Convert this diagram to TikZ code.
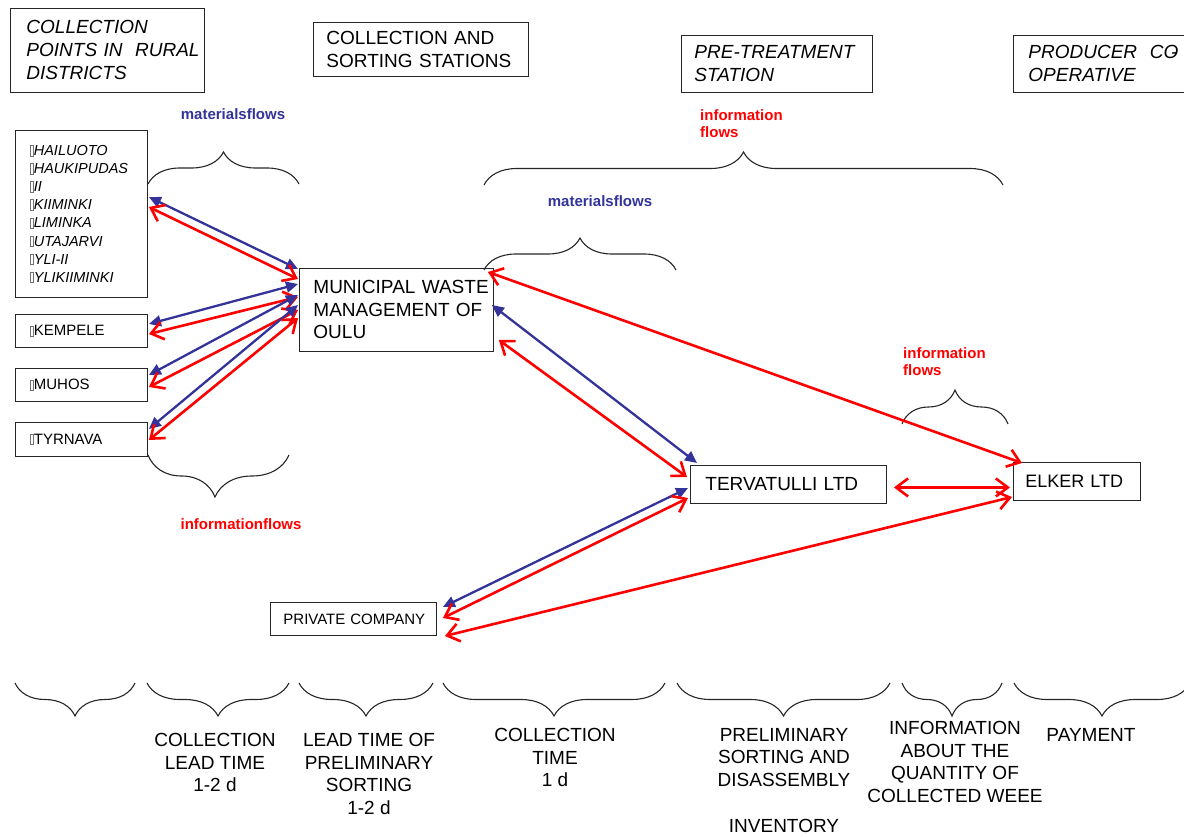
\documentclass[tikz,border=0pt]{standalone}
\usepackage{fontspec}
\setmainfont{Liberation Sans}
\usetikzlibrary{arrows.meta, decorations.pathreplacing}
\definecolor{FlowBlue}{HTML}{333399}
\definecolor{FlowRed}{HTML}{FF0000}
% empty glyph box in front of the place names
\newcommand{\tofu}{{\color{black!55}\setlength{\fboxsep}{0pt}\setlength{\fboxrule}{0.4pt}\fbox{\rule{0pt}{10pt}\hspace{2.6pt}}}}

\begin{document}
\begin{tikzpicture}[x=1pt, y=-1pt,
  box/.style={draw=black!85, line width=0.9pt, align=left, inner ysep=0pt, anchor=north west},
  hdfont/.style={font={\fontsize{19}{23}\selectfont}},
  hditfont/.style={font={\fontsize{19}{23}\selectfont\itshape}},
  placefont/.style={font={\fontsize{15}{18}\selectfont}},
  flowlbl/.style={inner sep=0pt, font={\fontsize{15}{17}\selectfont\bfseries}},
  timelbl/.style={anchor=north, align=center, inner sep=0pt, font={\fontsize{19}{22.6}\selectfont}},
  matflow/.style={draw=FlowBlue, line width=2.3pt, >={Triangle[length=12pt,width=11pt]}, <->},
  infoflow/.style={draw=FlowRed, line width=2.6pt, >={Straight Barb[length=12pt,width=18pt]}, <->},
  brc/.style={draw=black!85, line width=1.1pt, decorate, decoration={brace, amplitude=#1}}]
  \useasboundingbox (0,0) rectangle (1184,837);

  % stage headings
  \node[box, hditfont, text width=162, inner xsep=16, minimum height=84] (hdrrural) at (10,8)
    {\mbox{COLLECTION}\\\mbox{POINTS IN\ \ RURAL}\\\mbox{DISTRICTS}};
  \node[box, hdfont, text width=189, inner xsep=13, minimum height=54] (hdrsort) at (313,22)
    {\mbox{COLLECTION AND}\\\mbox{SORTING STATIONS}};
  \node[box, hditfont, text width=165, inner xsep=13, minimum height=57] (hdrpre) at (681,35)
    {\mbox{PRE-TREATMENT}\\STATION};
  \node[box, hditfont, text width=172, inner xsep=15, minimum height=57] (hdrprod) at (1013,35)
    {\mbox{PRODUCER\ \ CO\llap{-\kern1pt}}\\OPERATIVE};

  % collection points
  \node[box, font={\fontsize{14.5}{18.1}\selectfont\itshape}, text width=102, inner xsep=15,
        minimum height=167] (rural) at (15,130)
    {\mbox{\tofu HAILUOTO}\\\mbox{\tofu HAUKIPUDAS}\\\mbox{\tofu II}\\\mbox{\tofu KIIMINKI}\\
     \mbox{\tofu LIMINKA}\\\mbox{\tofu UTAJARVI}\\\mbox{\tofu YLI-II}\\\mbox{\tofu YLIKIIMINKI}};
  \node[box, placefont, text width=102, inner xsep=15, minimum height=33] (kempele) at (15,314) {\tofu KEMPELE};
  \node[box, placefont, text width=102, inner xsep=15, minimum height=33] (muhos) at (15,368) {\tofu MUHOS};
  \node[box, placefont, text width=102, inner xsep=15, minimum height=34] (tyrnava) at (15,422) {\tofu TYRNAVA};

  % actors
  \node[box, font={\fontsize{19}{22.5}\selectfont}, text width=166, inner xsep=14, minimum height=83] (mwm) at (299,268)
    {\mbox{MUNICIPAL WASTE}\\\mbox{MANAGEMENT OF}\\OULU};
  \node[box, hdfont, text width=166, inner xsep=15, minimum height=38] (terv) at (690,465) {\mbox{TERVATULLI LTD}};
  \node[box, font={\fontsize{18}{22}\selectfont}, text width=103, inner xsep=12, minimum height=38] (elker) at (1013,462)
    {\mbox{ELKER LTD}};
  \node[box, placefont, text width=140, inner xsep=13, minimum height=33] (private) at (270,602)
    {\mbox{PRIVATE COMPANY}};

  % flow labels
  \node[flowlbl, text=FlowBlue] (matlblrural) at (233,114) {materialsflows};
  \node[flowlbl, text=FlowRed] (infolblrural) at (241,524) {informationflows};
  \node[flowlbl, text=FlowRed, align=left, anchor=west] (infolblpre) at (700,123.5) {information\\flows};
  \node[flowlbl, text=FlowBlue] (matlblterv) at (600,201) {materialsflows};
  \node[flowlbl, text=FlowRed, align=left, anchor=west] (infolblelker) at (903,361.5) {information\\flows};

  % braces
  \draw[brc=32] (148,184) -- (299,184);
  \draw[brc=42, decoration={aspect=0.525}] (289,455) -- (148,455);
  \draw[brc=33] (484,185) -- (1003,185);
  \draw[brc=32] (484,270) -- (676,270);
  \draw[brc=34] (902,424) -- (1008,424);
  \foreach \l/\r in {15/135, 147/289, 299/433, 443/665, 677/890, 902/1002, 1014/1190}
    \draw[brc=33] (\r,683) -- (\l,683);

  % time line
  \node[timelbl] (tcollect) at (215,733) {COLLECTION\\LEAD TIME\\1-2 d};
  \node[timelbl] (tlead) at (369,733) {LEAD TIME OF\\PRELIMINARY\\SORTING\\1-2 d};
  \node[timelbl] (tcoltime) at (555,728) {COLLECTION\\TIME\\1 d};
  \node[timelbl] (tsort) at (784,728) {PRELIMINARY\\SORTING AND\\DISASSEMBLY\\[23pt]INVENTORY};
  \node[timelbl] (tinfo) at (955,721) {INFORMATION\\ABOUT THE\\QUANTITY OF\\COLLECTED WEEE};
  \node[timelbl] (tpay) at (1091,728) {PAYMENT};

  % flows between collection points and Oulu
  \draw[matflow] ([shift={(1,67)}]rural.north east) -- ([shift={(-1,1)}]mwm.north west);
  \draw[infoflow] ([shift={(1,77)}]rural.north east) -- ([shift={(-1,11)}]mwm.north west);
  \draw[matflow] ([shift={(1,10)}]kempele.north east) -- ([shift={(-1,16)}]mwm.north west);
  \draw[infoflow] ([shift={(1,20)}]kempele.north east) -- ([shift={(-1,29)}]mwm.north west);
  \draw[matflow] ([shift={(1,7)}]muhos.north east) -- ([shift={(-1,27)}]mwm.north west);
  \draw[infoflow] ([shift={(1,19)}]muhos.north east) -- ([shift={(-1,42)}]mwm.north west);
  \draw[matflow] ([shift={(1,7)}]tyrnava.north east) -- ([shift={(-1,37)}]mwm.north west);
  \draw[infoflow] ([shift={(1,18)}]tyrnava.north east) -- ([shift={(-1,50)}]mwm.north west);

  % flows to pre-treatment and producers
  \draw[matflow] ([shift={(-2,37)}]mwm.north east) -- ([shift={(7,-2)}]terv.north west);
  \draw[infoflow] ([shift={(5,72)}]mwm.north east) -- ([shift={(-3,12)}]terv.north west);
  \draw[infoflow] ([shift={(-6,4)}]mwm.north east) -- ([shift={(9,1)}]elker.north west);
  \draw[infoflow] ([shift={(7,3)}]terv.east) -- ([shift={(-3,6)}]elker.west);
  \draw[matflow] ([shift={(-2,23)}]terv.north west) -- ([shift={(6,5)}]private.north east);
  \draw[infoflow] ([shift={(-2,33)}]terv.north west) -- ([shift={(6,16)}]private.north east);
  \draw[infoflow] ([shift={(-1,35)}]elker.north west) -- ([shift={(8,34)}]private.north east);
\end{tikzpicture}
\end{document}
